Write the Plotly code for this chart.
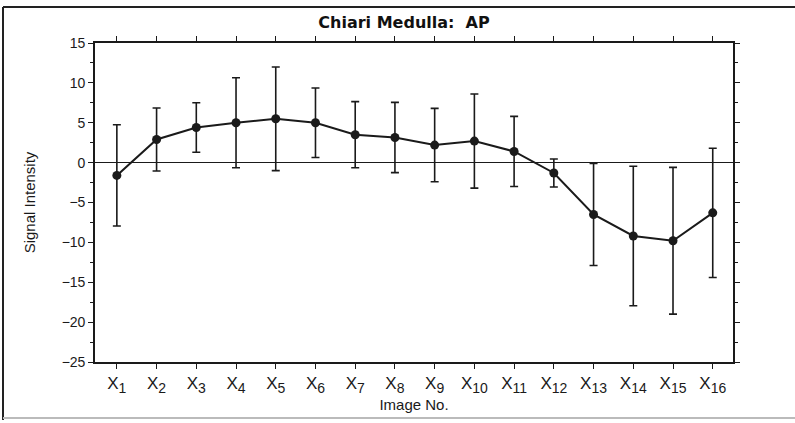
import plotly.graph_objects as go

categories = [str(i) for i in range(1, 17)]
means = [-1.6, 2.9, 4.4, 5.0, 5.5, 5.0, 3.5, 3.15, 2.2, 2.7, 1.4, -1.3, -6.5, -9.2, -9.8, -6.3]
errors = [6.35, 3.95, 3.1, 5.65, 6.5, 4.35, 4.15, 4.4, 4.6, 5.9, 4.4, 1.75, 6.4, 8.75, 9.2, 8.1]
y_ticks = [15, 10, 5, 0, -5, -10, -15, -20, -25]

x_pos = list(range(1, len(categories) + 1))
tick_text = ["X<sub><span style='font-size:14px'>%s</span></sub>" % c for c in categories]

fig = go.Figure()
fig.add_trace(go.Scatter(
    x=x_pos, y=means, mode="lines+markers",
    line=dict(color="#1a1a1a", width=2),
    marker=dict(symbol="circle", size=9, color="#1a1a1a"),
    error_y=dict(type="data", array=errors, visible=True,
                 color="#1a1a1a", thickness=1.6, width=4),
    showlegend=False,
))

L, R, T, B = 95, 62, 43, 61
W, H = 795, 423
pw, ph = W - L - R, H - T - B

def px(x):
    return (x - L) / pw

def py(y):
    return (H - B - y) / ph

fig.update_layout(
    width=W, height=H,
    margin=dict(l=L, r=R, t=T, b=B, autoexpand=False),
    paper_bgcolor="white", plot_bgcolor="white",
    font=dict(family="Liberation Sans, Arial, sans-serif", color="#1a1a1a", size=13),
    title=dict(text="Chiari Medulla:  AP", x=404 / W, xanchor="center",
               y=1 - 22 / H, yanchor="middle", automargin=False,
               font=dict(family="DejaVu Sans, sans-serif", size=16, color="#111", weight="bold")),
    xaxis=dict(
        range=[0.45, 16.51], tickmode="array", tickvals=x_pos, ticktext=tick_text,
        automargin=False,
        showgrid=False, zeroline=False, showline=True, linecolor="#1a1a1a", linewidth=1.6,
        mirror="ticks", ticks="outside", ticklen=5, tickwidth=1.3, tickcolor="#1a1a1a",
        tickfont=dict(size=17, family="Liberation Sans, Arial, sans-serif"),
        title=dict(text="Image No.", standoff=2, font=dict(size=15)),
    ),
    yaxis=dict(
        range=[-25, 15], tickmode="array", tickvals=y_ticks,
        automargin=False,
        showgrid=False, zeroline=True, zerolinecolor="#1a1a1a", zerolinewidth=1.2,
        showline=True, linecolor="#1a1a1a", linewidth=1.6,
        mirror="ticks", ticks="outside", ticklen=5, tickwidth=1.3, tickcolor="#1a1a1a",
        minor=dict(dtick=2.5, ticks="outside", ticklen=3, tickwidth=1, tickcolor="#1a1a1a"),
        tickfont=dict(size=14),
        title=dict(text="Signal Intensity", standoff=22, font=dict(size=15)),
    ),
    shapes=[
        dict(type="line", xref="paper", yref="paper", x0=px(3), x1=px(800), y0=py(7), y1=py(7),
             line=dict(color="#222", width=2)),
        dict(type="line", xref="paper", yref="paper", x0=px(3), x1=px(3), y0=py(7), y1=py(420),
             line=dict(color="#222", width=2)),
        dict(type="line", xref="paper", yref="paper", x0=px(3), x1=px(800), y0=py(418), y1=py(418),
             line=dict(color="#bbb", width=2)),
    ],
)

fig.write_html("out.html", config={"displayModeBar": False},
               post_script="document.body.style.margin='0';document.body.style.overflow='hidden';")
